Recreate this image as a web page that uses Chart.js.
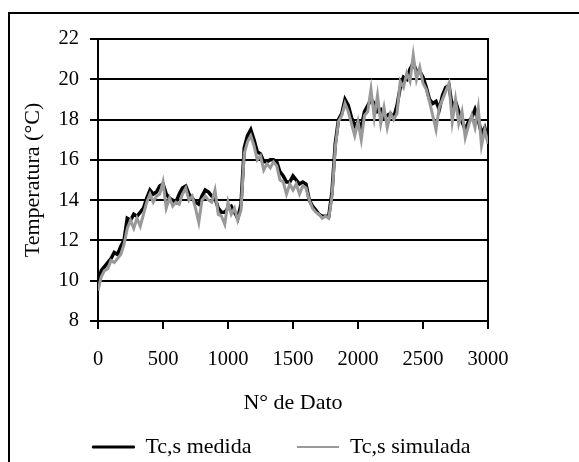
<!DOCTYPE html>
<html>
<head>
<meta charset="utf-8">
<script src="https://cdn.jsdelivr.net/npm/chart.js@4.4.1/dist/chart.umd.min.js"></script>
<style>
  body { margin: 0; background: #fff; }
  #marco { position: absolute; left: 8px; top: 12px; width: 620px; height: 520px;
           border-left: 2px solid #000; border-top: 2px solid #000; }
  #grafico { position: absolute; left: 0; top: 0; }
</style>
</head>
<body>
<div id="marco"></div>
<canvas id="grafico" width="579" height="462"></canvas>
<script>
// datos
const xDato = [
  0, 25, 50, 75, 100, 125, 150, 175, 200, 225, 250, 275, 300, 325, 350, 375,
  400, 425, 450, 475, 500, 525, 550, 575, 600, 625, 650, 675, 700, 725, 750, 775,
  800, 825, 850, 875, 900, 925, 950, 975, 1000, 1025, 1050, 1075, 1100, 1125, 1150, 1175,
  1200, 1225, 1250, 1275, 1300, 1325, 1350, 1375, 1400, 1425, 1450, 1475, 1500, 1525, 1550, 1575,
  1600, 1625, 1650, 1675, 1700, 1725, 1750, 1775, 1800, 1825, 1850, 1875, 1900, 1925, 1950, 1975,
  2000, 2025, 2050, 2075, 2100, 2125, 2150, 2175, 2200, 2225, 2250, 2275, 2300, 2325, 2350, 2375,
  2400, 2425, 2450, 2475, 2500, 2525, 2550, 2575, 2600, 2625, 2650, 2675, 2700, 2725, 2750, 2775,
  2800, 2825, 2850, 2875, 2900, 2925, 2950, 2975, 3000
]

const tcMedida = [
  9.9, 10.5, 10.7, 10.9, 11.1, 11.4, 11.3, 11.7, 12.0, 13.1, 13.0, 13.3, 13.2, 13.4, 13.6, 14.1,
  14.5, 14.3, 14.4, 14.7, 14.8, 14.3, 14.1, 14.0, 13.9, 14.3, 14.6, 14.7, 14.3, 14.1, 13.9, 13.8,
  14.2, 14.5, 14.4, 14.2, 14.1, 13.6, 13.4, 13.4, 13.6, 13.7, 13.4, 13.1, 13.8, 16.6, 17.2, 17.5,
  17.0, 16.4, 16.3, 15.9, 15.9, 16.0, 16.0, 15.9, 15.4, 15.2, 14.9, 14.9, 15.2, 15.0, 14.8, 14.9,
  14.8, 14.0, 13.7, 13.5, 13.3, 13.2, 13.2, 13.2, 14.4, 16.8, 18.0, 18.3, 19.0, 18.7, 18.1, 17.7,
  17.9, 17.6, 18.4, 18.7, 19.0, 18.8, 18.4, 18.5, 18.1, 18.2, 18.3, 18.1, 18.7, 19.6, 20.1, 20.0,
  20.5, 20.8, 20.4, 20.4, 20.1, 19.6, 19.0, 18.8, 18.9, 18.5, 19.2, 19.6, 19.7, 18.6, 18.9, 18.4,
  17.9, 17.5, 17.9, 18.1, 18.5, 18.0, 17.3, 17.6, 17.0
]

const tcSimulada = [
  9.5, 10.2, 10.5, 10.6, 11.0, 10.9, 11.1, 11.3, 11.8, 12.6, 13.0, 12.6, 13.1, 12.7, 13.3, 13.9,
  14.3, 13.9, 14.2, 14.3, 14.9, 13.6, 14.1, 13.7, 13.9, 13.8, 14.3, 14.6, 14.0, 14.2, 13.6, 12.9,
  14.0, 14.2, 14.0, 13.9, 14.5, 13.3, 13.2, 12.8, 13.9, 13.3, 13.6, 13.0, 13.5, 16.3, 16.9, 17.2,
  16.7, 16.0, 16.2, 15.5, 15.8, 15.6, 15.9, 15.7, 15.0, 14.9, 14.3, 14.8, 14.5, 14.8, 14.3, 14.7,
  14.6, 14.0, 13.6, 13.4, 13.3, 13.1, 13.2, 13.1, 14.2, 16.6, 17.9, 18.2, 18.8, 18.4, 17.8, 17.2,
  17.9, 17.0, 18.2, 18.4, 19.5, 18.1, 19.2, 17.8, 18.6, 17.6, 18.3, 18.0, 18.3, 19.9, 19.6, 20.3,
  19.9, 21.2, 20.0, 20.6, 19.8, 19.5, 18.9, 18.2, 17.5, 18.6, 19.0, 19.4, 19.8, 17.9, 19.0, 17.8,
  18.4, 17.1, 17.7, 18.2, 17.6, 18.6, 16.7, 17.5, 16.8
]

const fuente = 'Liberation Serif, Times New Roman, serif'

const ctx = document.getElementById('grafico')
const chart = new Chart(ctx, {
  type: 'line',
  data: {
    datasets: [
      {
        label: 'Tc,s medida',
        data: xDato.map((x, i) => ({x: x, y: tcMedida[i]})),
        borderColor: '#000000',
        backgroundColor: '#000000',
        borderWidth: 3.5,
        pointRadius: 0,
        tension: 0,
        order: 2
      },
      {
        label: 'Tc,s simulada',
        data: xDato.map((x, i) => ({x: x, y: tcSimulada[i]})),
        borderColor: '#999999',
        backgroundColor: '#999999',
        borderWidth: 3,
        pointRadius: 0,
        tension: 0,
        order: 1
      }
    ]
  },
  options: {
    responsive: false,
    animation: false,
    layout: { padding: { left: 0, right: 16, top: 39, bottom: -6 } },
    plugins: {
      tooltip: { enabled: false },
      legend: {
        position: 'bottom',
        labels: {
          color: '#000',
          font: { family: fuente, size: 22 },
          boxWidth: 42,
          boxHeight: 2,
          padding: 45.5,
          generateLabels: (c) => c.data.datasets.map((ds, i) => ({
            text: ds.label,
            fillStyle: ds.borderColor,
            strokeStyle: ds.borderColor,
            lineWidth: i == 0 ? 1 : 0,
            datasetIndex: i
          }))
        }
      }
    },
    scales: {
      x: {
        type: 'linear',
        min: 0,
        max: 3000,
        ticks: { stepSize: 500, color: '#000', font: { family: fuente, size: 20.5 }, padding: 18, maxRotation: 0,
                 callback: (v) => String(v) },
        grid: { drawOnChartArea: false, color: '#000', lineWidth: 2, tickLength: 8 },
        border: { color: '#000', width: 2 },
        title: { display: true, text: 'N° de Dato', color: '#000', font: { family: fuente, size: 22 }, padding: { top: 0, bottom: -25.7 } },
        afterFit: (s) => { s.height = 69.5 }
      },
      y: {
        min: 8,
        max: 22,
        ticks: { stepSize: 2, color: '#000', font: { family: fuente, size: 20.5 }, padding: 11 },
        grid: { color: '#000', lineWidth: 2, tickLength: 8 },
        border: { color: '#000', width: 2 },
        title: { display: true, text: 'Temperatura (°C)', color: '#000', font: { family: fuente, size: 22 }, padding: { top: 19.8, bottom: 0 } },
        afterFit: (s) => { s.width = 98 }
      },
      y2: {
        position: 'right',
        ticks: { display: false },
        grid: { display: false },
        border: { display: true, color: '#000', width: 2 },
        afterFit: (s) => { s.width = 75 }
      }
    }
  }
})
</script>
</body>
</html>
